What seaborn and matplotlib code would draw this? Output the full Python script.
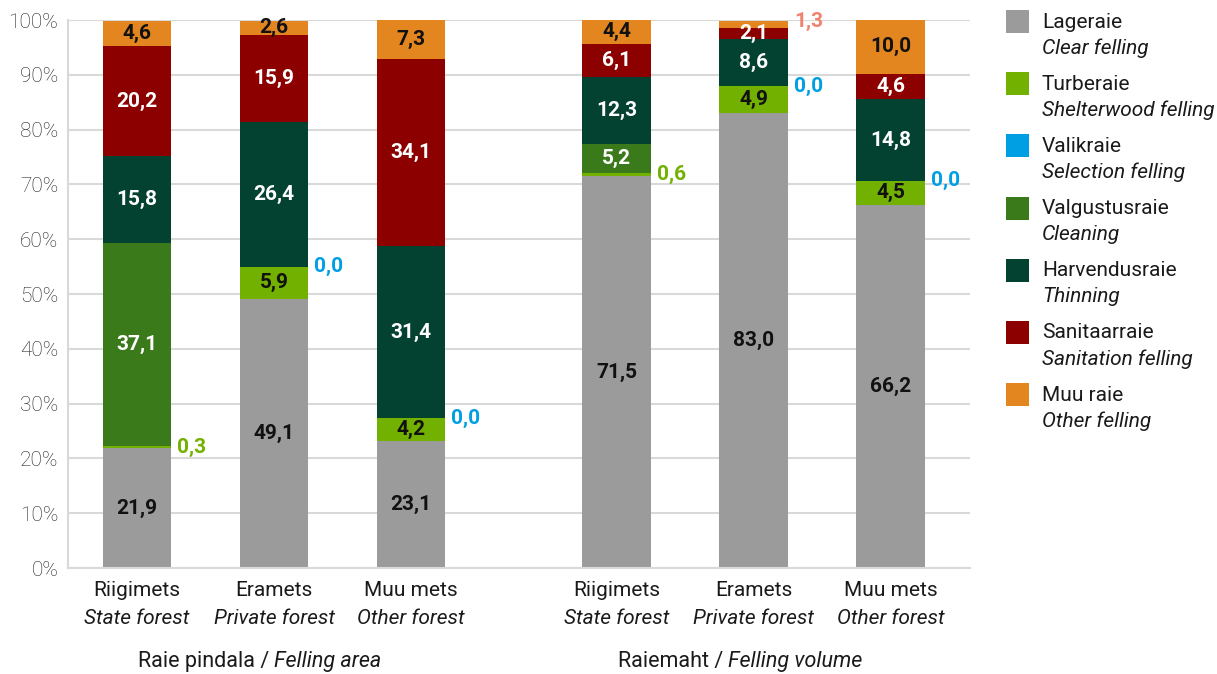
import numpy as np
import pandas as pd
import matplotlib
matplotlib.use("Agg")
import matplotlib.pyplot as plt
import seaborn as sns
from matplotlib.patches import Rectangle

# ---------------- data ----------------
bar_names_et = ["Riigimets", "Eramets", "Muu mets", "Riigimets", "Eramets", "Muu mets"]
bar_names_en = ["State forest", "Private forest", "Other forest",
                "State forest", "Private forest", "Other forest"]
group_et = ["Raie pindala", "Raiemaht"]
group_en = ["Felling area", "Felling volume"]

series_et = ["Lageraie", "Turberaie", "Valikraie", "Valgustusraie",
             "Harvendusraie", "Sanitaarraie", "Muu raie"]
series_en = ["Clear felling", "Shelterwood felling", "Selection felling", "Cleaning",
             "Thinning", "Sanitation felling", "Other felling"]

lageraie      = [21.9, 49.1, 23.1, 71.5, 83.0, 66.2]
turberaie     = [0.3, 5.9, 4.2, 0.6, 4.9, 4.5]
valikraie     = [None, 0.0, 0.0, None, 0.0, 0.0]
valgustusraie = [37.1, None, None, 5.2, None, None]
harvendusraie = [15.8, 26.4, 31.4, 12.3, 8.6, 14.8]
sanitaarraie  = [20.2, 15.9, 34.1, 6.1, 2.1, 4.6]
muu_raie      = [4.6, 2.6, 7.3, 4.4, 1.3, 10.0]

ytick_values = [0, 10, 20, 30, 40, 50, 60, 70, 80, 90, 100]

series_values = [lageraie, turberaie, valikraie, valgustusraie,
                 harvendusraie, sanitaarraie, muu_raie]

# ---------------- style ----------------
colors = ["#9B9B9B", "#72B100", "#009FE3", "#3B7A1B", "#034130", "#8C0000", "#E3861F"]
inside_text_colors = ["#111111", "#111111", "#111111", "white", "white", "white", "#111111"]
# (series index, bar index) -> colour of labels placed beside the bar
outside_labels = {(1, 0): "#72B100", (1, 3): "#72B100",
                  (2, 1): "#009FE3", (2, 2): "#009FE3", (2, 4): "#009FE3", (2, 5): "#009FE3",
                  (6, 4): "#F2826F"}
x_pos = [0, 1, 2, 3.5, 4.5, 5.5]
W, H = 1217, 674

sns.set_theme(style="white")
plt.rcParams["font.family"] = ["Roboto", "DejaVu Sans"]

fig = plt.figure(figsize=(W / 100, H / 100), dpi=100)
ax = fig.add_axes([68 / W, 1 - 568 / H, (970 - 68) / W, (568 - 20) / H])

bottom = np.zeros(len(x_pos))
for i, vals in enumerate(series_values):
    v = np.array([0.0 if a is None else a for a in vals])
    df = pd.DataFrame({"x": x_pos, "y": v})
    sns.barplot(data=df, x="x", y="y", native_scale=True, width=0.5,
                color=colors[i], saturation=1, errorbar=None,
                bottom=bottom.copy(), linewidth=0, ax=ax)
    for j, a in enumerate(vals):
        if a is None:
            continue
        txt = f"{a:.1f}".replace(".", ",")
        center = bottom[j] + a / 2
        if (i, j) in outside_labels:
            dy = 3 if i == 6 else 0
            ax.annotate(txt, xy=(x_pos[j] + 0.25, center), xytext=(6, dy),
                        textcoords="offset pixels", ha="left", va="center",
                        fontsize=15, fontweight="bold",
                        color=outside_labels[(i, j)])
        else:
            ax.text(x_pos[j], center, txt, ha="center", va="center",
                    fontsize=15, fontweight="bold", color=inside_text_colors[i])
    bottom += v

ax.set_xlim(-0.504, 6.08)
ax.set_ylim(0, 100)
ax.set_yticks(ytick_values)
ax.set_yticklabels([f"{t}%" for t in ytick_values], fontsize=15,
                   fontweight="light", color="#222222")
ax.set_xticks([])
ax.set_xlabel("")
ax.set_ylabel("")
ax.tick_params(axis="y", length=0, pad=7)
ax.yaxis.grid(True, color="#D9D9D9", linewidth=1.5)
ax.xaxis.grid(False)
ax.set_axisbelow(True)
for s in ["top", "right"]:
    ax.spines[s].set_visible(False)
for s in ["left", "bottom"]:
    ax.spines[s].set_color("#D9D9D9")
    ax.spines[s].set_linewidth(1.5)

# category labels
for j, xp in enumerate(x_pos):
    ax.annotate(bar_names_et[j], xy=(xp, 0), xycoords=("data", "axes fraction"),
                xytext=(0, -22), textcoords="offset pixels", ha="center", va="center",
                fontsize=15, color="#1a1a1a")
    ax.annotate(bar_names_en[j], xy=(xp, 0), xycoords=("data", "axes fraction"),
                xytext=(0, -50), textcoords="offset pixels", ha="center", va="center",
                fontsize=15, style="italic", color="#1a1a1a")

# group labels (mixed upright / italic)
starts = [138, 618]
fig.canvas.draw()
renderer = fig.canvas.get_renderer()
for g in range(2):
    t1 = fig.text(starts[g] / W, 1 - 661 / H, f"{group_et[g]} /", ha="left", va="center",
                  fontsize=15.5, color="#1a1a1a")
    bb = t1.get_window_extent(renderer=renderer)
    fig.text((bb.x1 + 5) / W, 1 - 661 / H, group_en[g], ha="left", va="center",
             fontsize=15.5, style="italic", color="#1a1a1a")

# legend
for i in range(len(series_et)):
    top = 10 + i * 62.2
    fig.add_artist(Rectangle((1006 / W, 1 - (top + 23) / H), 23 / W, 23 / H,
                             transform=fig.transFigure, facecolor=colors[i],
                             edgecolor="none"))
    fig.text(1042 / W, 1 - (top + 12) / H, series_et[i], ha="left", va="center",
             fontsize=15, color="#1a1a1a")
    fig.text(1042 / W, 1 - (top + 38) / H, series_en[i], ha="left", va="center",
             fontsize=15, style="italic", color="#1a1a1a")

fig.savefig("out.png", dpi=100)
